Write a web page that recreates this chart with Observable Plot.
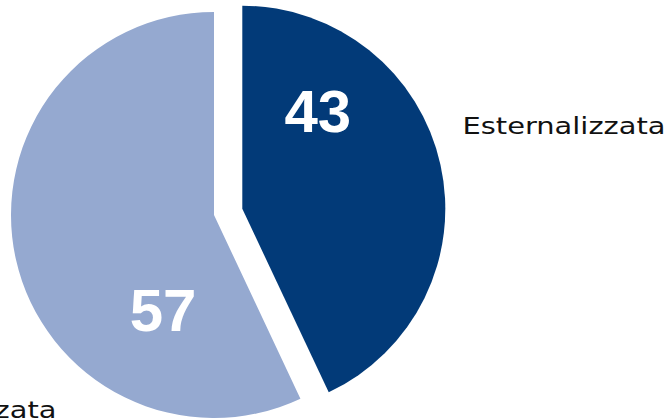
<!DOCTYPE html>
<html><head><meta charset="utf-8">
<script src="https://cdn.jsdelivr.net/npm/d3@7"></script>
<script src="https://cdn.jsdelivr.net/npm/@observablehq/plot@0.6"></script>
<style>html,body{margin:0;padding:0;background:#fff;overflow:hidden}</style>
</head><body><div id="chart"></div>
<script>
// ---- data ----
const categories = ["Esternalizzata", "Internalizzata"];
const values = [43, 57];
const valueLabels = ["43", "57"];

// ---- styling / layout ----
const W = 669, H = 418;
const sliceColors = ["#023a78", "#95a9d0"];
const color = Plot.scale({color: {type: "ordinal", domain: categories, range: sliceColors}});
const center = [214, 215];
const R = 203;
const explode = [29, 0];                 // offset of each slice along its bisector
const innerLabel = [{deg: 38, f: 0.60}, {deg: 208, f: 0.54}];
const outerLabel = [{x: 462, y: 126, anchor: "start"}, {x: 56, y: 410, anchor: "end"}];

const pie = d3.pie().sort(null).value(d => d.value);
const arcs = pie(categories.map((c, i) => ({category: c, value: values[i], label: valueLabels[i]})));
const rad = d => d * Math.PI / 180;
const rows = arcs.map((a, i) => {
  const mid = (a.startAngle + a.endAngle) / 2;
  const cx = center[0] + explode[i] * Math.sin(mid);
  const cy = center[1] - explode[i] * Math.cos(mid);
  const la = rad(innerLabel[i].deg), lr = innerLabel[i].f * R;
  return {
    ...a.data, startAngle: a.startAngle, endAngle: a.endAngle, cx, cy,
    lx: cx + lr * Math.sin(la), ly: cy - lr * Math.cos(la),
    ox: outerLabel[i].x, oy: outerLabel[i].y, anchor: outerLabel[i].anchor
  };
});

function pieMark(index, scales) {
  const sx = scales && scales.x ? scales.x : v => v;
  const sy = scales && scales.y ? scales.y : v => v;
  const g = d3.create("svg:g").attr("aria-label", "pie");
  const arcGen = d3.arc().innerRadius(0).outerRadius(R);
  for (const r of rows) {
    g.append("path")
      .attr("d", arcGen({startAngle: r.startAngle, endAngle: r.endAngle}))
      .attr("transform", `translate(${sx(r.cx)},${sy(r.cy)})`)
      .attr("fill", color.apply(r.category));
  }
  return g.node();
}

const chart = Plot.plot({
  width: W, height: H, margin: 0,
  style: {background: "#fff"},
  x: {type: "identity", axis: null},
  y: {type: "identity", axis: null},
  marks: [
    pieMark,
    Plot.text(rows, {x: "lx", y: "ly", text: "label", fill: "white", fontSize: 60, fontWeight: "bold",
      fontFamily: "'Liberation Sans', Arial, sans-serif", textAnchor: "middle"}),
    Plot.text(rows.filter(d => d.anchor === "start"), {x: "ox", y: "oy", text: "category", textAnchor: "start",
      fill: "#111", fontSize: 23, fontFamily: "'DejaVu Sans', sans-serif"}),
    Plot.text(rows.filter(d => d.anchor === "end"), {x: "ox", y: "oy", text: "category", textAnchor: "end",
      fill: "#111", fontSize: 23, fontFamily: "'DejaVu Sans', sans-serif"})
  ]
});
document.getElementById("chart").appendChild(chart);

// widen the outer labels to mimic the wide geometric face of the original
const outer = d3.select(chart).selectAll("text").filter(function() { return categories.includes(this.textContent); });
const ref = outer.filter(function() { return this.textContent === "Esternalizzata"; }).node();
if (ref) {
  const k = 203 / ref.getComputedTextLength();
  outer.each(function() {
    this.setAttribute("textLength", this.getComputedTextLength() * k);
    this.setAttribute("lengthAdjust", "spacingAndGlyphs");
  });
}
</script>
</body></html>
